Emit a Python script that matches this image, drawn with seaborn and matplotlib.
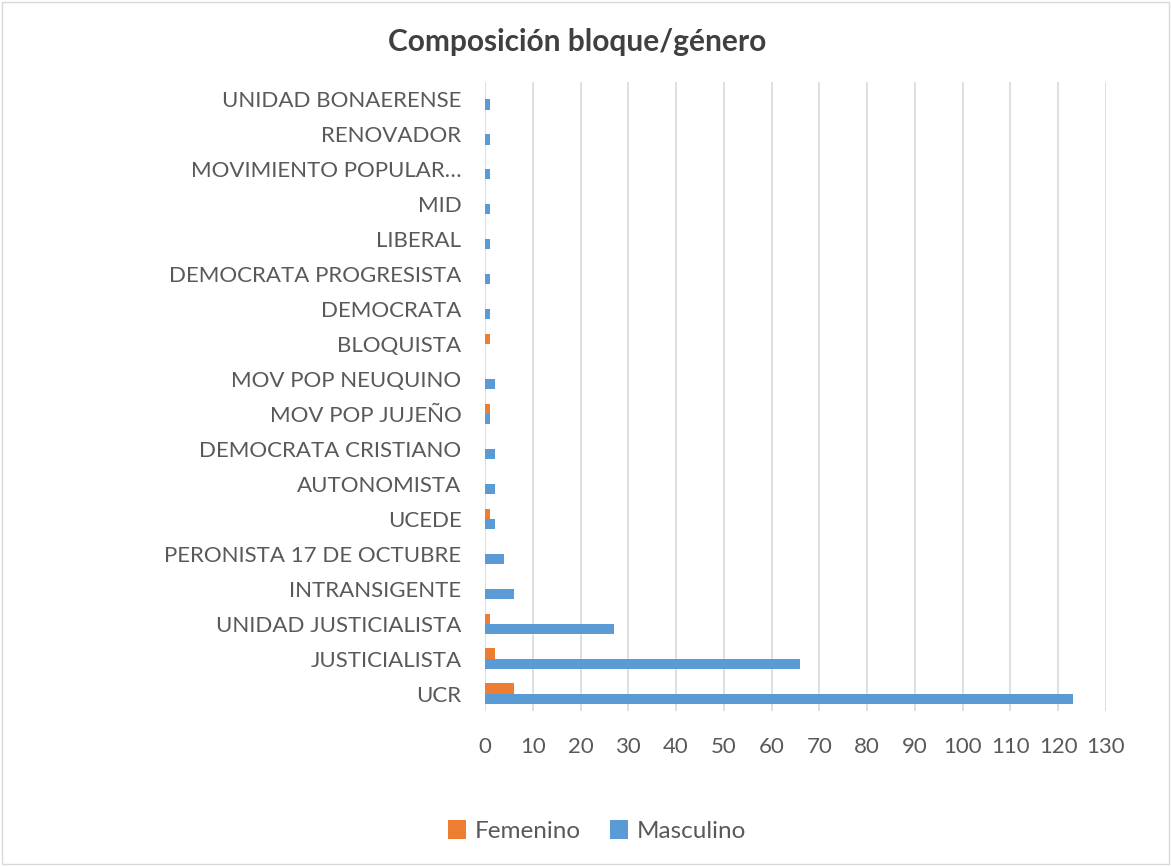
import pandas as pd
import seaborn as sns
import matplotlib.pyplot as plt
from matplotlib.patches import Rectangle

# Données (de haut en bas)
bloques = ['UNIDAD BONAERENSE', 'RENOVADOR', 'MOVIMIENTO POPULAR…', 'MID', 'LIBERAL',
           'DEMOCRATA PROGRESISTA', 'DEMOCRATA', 'BLOQUISTA', 'MOV POP NEUQUINO',
           'MOV POP JUJEÑO', 'DEMOCRATA CRISTIANO', 'AUTONOMISTA', 'UCEDE',
           'PERONISTA 17 DE OCTUBRE', 'INTRANSIGENTE', 'UNIDAD JUSTICIALISTA',
           'JUSTICIALISTA', 'UCR']
femenino = [0, 0, 0, 0, 0, 0, 0, 1, 0, 1, 0, 0, 1, 0, 0, 1, 2, 6]
masculino = [1, 1, 1, 1, 1, 1, 1, 0, 2, 1, 2, 2, 2, 4, 6, 27, 66, 123]
x_ticks = list(range(0, 131, 10))

df = pd.DataFrame({'Bloque': bloques * 2,
                   'Género': ['Femenino'] * len(bloques) + ['Masculino'] * len(bloques),
                   'Cantidad': femenino + masculino})

sns.set_style('white')
plt.rcParams['font.family'] = ['Lato', 'DejaVu Sans']

fig = plt.figure(figsize=(11.71, 8.66), dpi=100)
ax = fig.add_axes([485 / 1171, 1 - 711 / 866, (1106 - 485) / 1171, (711 - 82) / 866])

sns.barplot(data=df, y='Bloque', x='Cantidad', hue='Género', order=bloques,
            hue_order=['Femenino', 'Masculino'], palette=['#ED7D31', '#5B9BD5'],
            orient='h', width=0.58, saturation=1, linewidth=0, ax=ax, legend=True)

ax.set_xlim(0, 130)
ax.set_xticks(x_ticks)
ax.grid(axis='x', color='#d9d9d9', linewidth=1.2)
ax.set_axisbelow(True)
for s in ax.spines.values():
    s.set_visible(False)
ax.tick_params(axis='both', length=0, labelsize=16, colors='#595959')
ax.tick_params(axis='y', pad=17)
ax.tick_params(axis='x', pad=19)
ax.set_xlabel('')
ax.set_ylabel('')

fig.text(0.493, 1 - 42 / 866, 'Composición bloque/género', ha='center', va='center',
         fontsize=21.5, fontweight='bold', color='#404040')

ax.legend(loc='center', bbox_to_anchor=(0.51, 1 - 831 / 866), bbox_transform=fig.transFigure,
          ncol=2, frameon=False, fontsize=17.5, handlelength=0.75, handleheight=0.85,
          columnspacing=1.2, handletextpad=0.35, labelcolor='#595959')

fig.patches.append(Rectangle((0.002, 0.002), 0.996, 0.996, transform=fig.transFigure,
                             fill=False, edgecolor='#d9d9d9', linewidth=1))

plt.savefig('out.png', dpi=100)
